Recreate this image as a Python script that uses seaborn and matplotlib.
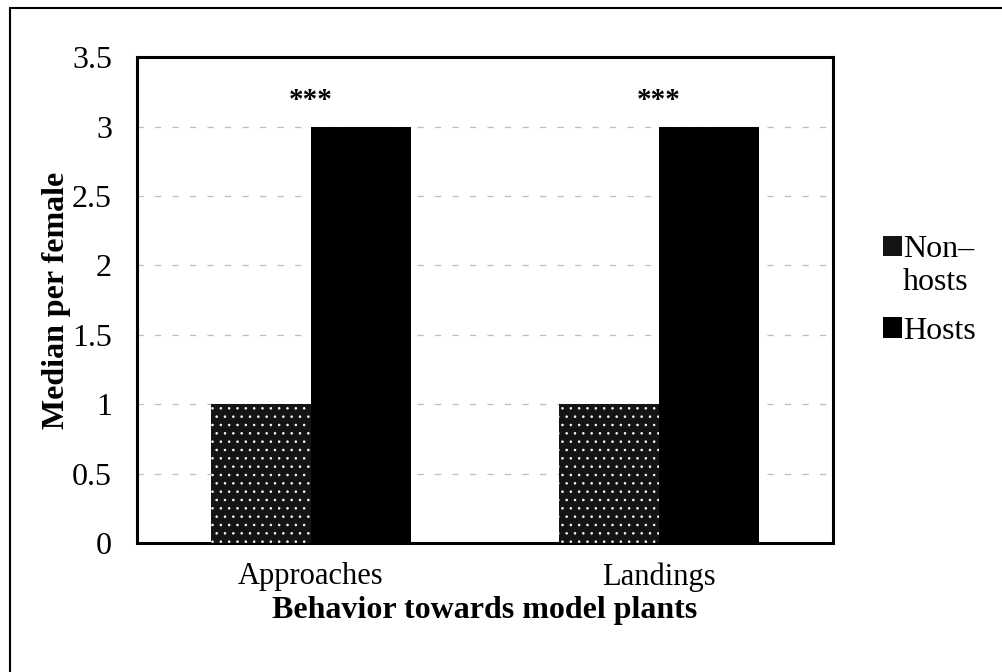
import matplotlib
matplotlib.use("Agg")
import matplotlib.pyplot as plt
import seaborn as sns
import pandas as pd
from matplotlib.patches import Patch
from matplotlib.lines import Line2D

categories = ["Approaches", "Landings"]
groups = ["Non-hosts", "Hosts"]
nonhosts = [1, 1]
hosts = [3, 3]
annotations = ["***", "***"]

df = pd.DataFrame({
    "Behavior": categories * 2,
    "Group": [groups[0]] * len(categories) + [groups[1]] * len(categories),
    "Median": nonhosts + hosts,
})

sns.set_theme(style="white")
plt.rcParams["font.family"] = ["Liberation Serif", "DejaVu Serif"]
plt.rcParams["text.color"] = "black"
plt.rcParams["axes.labelcolor"] = "black"
plt.rcParams["hatch.color"] = "#333333"
plt.rcParams["hatch.linewidth"] = 0.6

fig = plt.figure(figsize=(10.03, 6.72), dpi=100)
ax = fig.add_axes([0.1366, 0.192, 0.694, 0.723])

palette = {"Non-hosts": "#141414", "Hosts": "#000000"}
sns.barplot(data=df, x="Behavior", y="Median", hue="Group", order=categories,
            hue_order=groups, palette=palette, width=0.575, ax=ax,
            saturation=1, legend=False, linewidth=0, zorder=3)
for bar, g in zip(ax.patches, [groups[0]] * 2 + [groups[1]] * 2):
    if g == "Non-hosts":
        bar.set_hatch("..")

ax.set_ylim(0, 3.5)
ax.set_yticks([0, 0.5, 1, 1.5, 2, 2.5, 3, 3.5])
ax.set_yticklabels(["0", "0.5", "1", "1.5", "2", "2.5", "3", "3.5"])
ax.yaxis.grid(True, color="#bdbdbd", linestyle=(0, (5, 9)), linewidth=0.9, zorder=0)
ax.xaxis.grid(False)
ax.tick_params(axis="y", length=0, labelsize=23, colors="black", pad=18)
ax.tick_params(axis="x", length=0, labelsize=22, colors="black", pad=14)
for s in ax.spines.values():
    s.set_visible(True)
    s.set_color("black")
    s.set_linewidth(2.2)

ax.set_ylabel("Median per female", fontsize=23, fontweight="bold", labelpad=1,
              color="black")
ax.set_xlabel("Behavior towards model plants", fontsize=23, fontweight="bold", labelpad=3,
              color="black")

for i, txt in enumerate(annotations):
    ax.text(i, max(nonhosts[i], hosts[i]) + 0.19, txt, ha="center", va="center",
            fontsize=21, fontweight="bold", color="black")

leg_kw = dict(loc="center left", frameon=False, fontsize=23, handlelength=0.6,
              handleheight=0.6, handletextpad=0.05, borderpad=0, borderaxespad=0,
              labelcolor="black")
fig.legend([Patch(facecolor=palette["Non-hosts"], edgecolor="none", hatch="..")],
           ["Non–"], bbox_to_anchor=(0.880, 0.628), **leg_kw)
fig.legend([Patch(facecolor=palette["Hosts"], edgecolor="none")],
           ["Hosts"], bbox_to_anchor=(0.880, 0.507), **leg_kw)
fig.text(0.900, 0.580, "hosts", fontsize=23, ha="left", va="center", color="black")

fig.add_artist(Line2D([0.010, 0.010], [0.0, 0.988], transform=fig.transFigure,
                      color="black", linewidth=1.5))
fig.add_artist(Line2D([0.010, 1.0], [0.988, 0.988], transform=fig.transFigure,
                      color="black", linewidth=1.5))

fig.savefig("out.png", dpi=100)
